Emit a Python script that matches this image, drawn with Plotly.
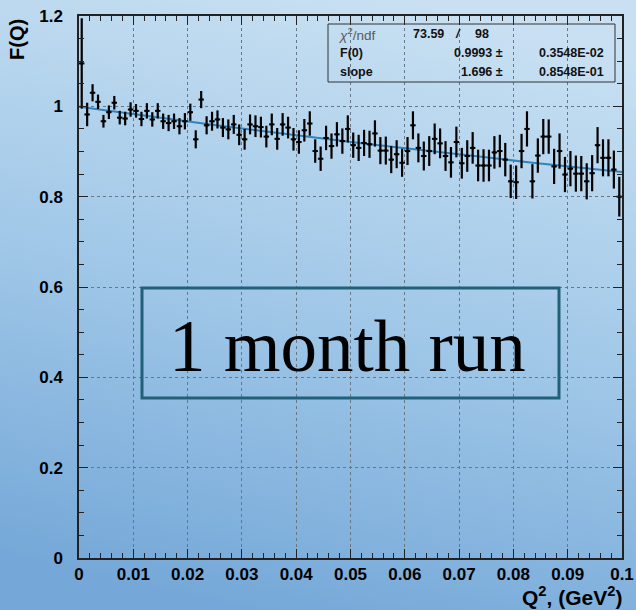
import base64
import numpy as np
import plotly.graph_objects as go

# ---------------- data ----------------
n_bins = 100
bin_width = 0.001
bin_centers = [round(bin_width * (i + 0.5), 4) for i in range(n_bins)]

f_values = [
    1.095, 0.982, 1.030, 1.010, 0.967, 0.987, 1.008, 0.975, 0.973, 0.993,
    0.990, 0.972, 0.990, 0.971, 0.990, 0.967, 0.963, 0.967, 0.956, 0.967,
    0.987, 0.927, 1.015, 0.958, 0.967, 0.971, 0.953, 0.949, 0.960, 0.937,
    0.927, 0.960, 0.956, 0.954, 0.933, 0.960, 0.928, 0.960, 0.953, 0.927,
    0.921, 0.947, 0.962, 0.901, 0.884, 0.930, 0.912, 0.938, 0.923, 0.950,
    0.914, 0.908, 0.919, 0.916, 0.940, 0.902, 0.902, 0.882, 0.894, 0.875,
    0.901, 0.958, 0.908, 0.890, 0.901, 0.928, 0.918, 0.890, 0.876, 0.921,
    0.874, 0.890, 0.908, 0.869, 0.869, 0.869, 0.898, 0.901, 0.882, 0.834,
    0.832, 0.901, 0.950, 0.834, 0.891, 0.933, 0.933, 0.867, 0.901, 0.849,
    0.862, 0.851, 0.851, 0.834, 0.852, 0.914, 0.886, 0.886, 0.860, 0.800,
]

f_errors = [
    0.100, 0.026, 0.019, 0.016, 0.014, 0.015, 0.015, 0.015, 0.015, 0.016,
    0.015, 0.016, 0.017, 0.016, 0.017, 0.017, 0.018, 0.017, 0.018, 0.018,
    0.019, 0.020, 0.019, 0.020, 0.021, 0.020, 0.021, 0.022, 0.021, 0.023,
    0.023, 0.022, 0.024, 0.023, 0.024, 0.024, 0.024, 0.025, 0.024, 0.025,
    0.026, 0.025, 0.027, 0.026, 0.027, 0.027, 0.028, 0.027, 0.028, 0.030,
    0.028, 0.029, 0.029, 0.030, 0.029, 0.030, 0.031, 0.030, 0.031, 0.031,
    0.031, 0.031, 0.032, 0.032, 0.033, 0.034, 0.033, 0.033, 0.034, 0.034,
    0.034, 0.035, 0.035, 0.035, 0.036, 0.035, 0.036, 0.036, 0.037, 0.037,
    0.037, 0.038, 0.039, 0.038, 0.038, 0.039, 0.038, 0.039, 0.039, 0.039,
    0.039, 0.040, 0.039, 0.040, 0.040, 0.040, 0.041, 0.041, 0.042, 0.044,
]

# fit result F(Q2) = F0 / (1 + slope * Q2)
fit_F0 = 0.9993
fit_slope = 1.696
fit_chi2 = "73.59"
fit_ndf = "98"
fit_F0_txt = "0.9993"
fit_F0_err = "0.3548E-02"
fit_slope_txt = "1.696"
fit_slope_err = "0.8548E-01"

x_ticks = [0, 0.01, 0.02, 0.03, 0.04, 0.05, 0.06, 0.07, 0.08, 0.09, 0.1]
x_tick_labels = ["0", "0.01", "0.02", "0.03", "0.04", "0.05", "0.06", "0.07", "0.08", "0.09", "0.1"]
y_ticks = [0, 0.2, 0.4, 0.6, 0.8, 1.0, 1.2]
y_tick_labels = ["0", "0.2", "0.4", "0.6", "0.8", "1", "1.2"]

label_text = "1 month run"

# ---------------- figure ----------------
W, H = 636, 610
ML, MR, MT, MB = 79, 14, 16, 52
PW, PH = W - ML - MR, H - MT - MB

fig = go.Figure()

fit_x = np.linspace(0, 0.1, 201)
fit_y = fit_F0 / (1 + fit_slope * fit_x)
fig.add_trace(go.Scatter(
    x=fit_x, y=fit_y, mode="lines",
    line=dict(color="#3183bd", width=2),
    hoverinfo="skip", showlegend=False,
))

fig.add_trace(go.Scatter(
    x=bin_centers, y=f_values, mode="markers",
    marker=dict(size=3, color="black"),
    error_y=dict(type="data", array=f_errors, color="black", thickness=2.2, width=0),
    error_x=dict(type="constant", value=bin_width / 2, color="black", thickness=2, width=0),
    showlegend=False,
))

# background gradient (decorative)
svg = (
    '<svg xmlns="http://www.w3.org/2000/svg" width="636" height="610">'
    '<defs><linearGradient id="g" x1="0.62" y1="0" x2="0.38" y2="1">'
    '<stop offset="0" stop-color="#c8e0f2"/>'
    '<stop offset="0.5" stop-color="#a1c8e8"/>'
    '<stop offset="1" stop-color="#75a8d8"/>'
    '</linearGradient></defs>'
    '<rect width="636" height="610" fill="url(#g)"/></svg>'
)
svg_uri = "data:image/svg+xml;base64," + base64.b64encode(svg.encode()).decode()
fig.add_layout_image(dict(
    source=svg_uri, xref="paper", yref="paper",
    x=-ML / PW, y=1 + MT / PH, sizex=W / PW, sizey=H / PH,
    xanchor="left", yanchor="top", sizing="stretch", layer="below",
))

tickfont = dict(family="Liberation Sans, Arial, sans-serif", size=17, color="black", weight="bold")
axis_common = dict(
    showline=True, linecolor="#222", linewidth=1.5, mirror="ticks",
    ticks="inside", ticklen=9, tickcolor="#222", tickwidth=1,
    showgrid=True, gridcolor="#667788", gridwidth=1, griddash="dot",
    zeroline=False, tickfont=tickfont,
)

fig.update_xaxes(
    range=[0, 0.1], tickvals=x_ticks, ticktext=x_tick_labels,
    minor=dict(dtick=0.002, ticks="inside", ticklen=5, tickcolor="#222", showgrid=False),
    ticklabelstandoff=0,
    **axis_common,
)
fig.update_yaxes(
    range=[0, 1.2], tickvals=y_ticks, ticktext=y_tick_labels,
    minor=dict(dtick=0.05, ticks="inside", ticklen=5, tickcolor="#222", showgrid=False),
    ticklabelstandoff=11,
    **axis_common,
)

def px_x(px):
    return (px - ML) / PW * 0.1

def px_y(py):
    return (H - MB - py) / PH * 1.2

# stats box
fig.add_shape(type="rect", xref="x", yref="y",
              x0=px_x(328), x1=px_x(615), y0=px_y(82), y1=px_y(24),
              line=dict(color="#333", width=1), fillcolor="rgba(0,0,0,0)")

sfont = dict(family="Liberation Sans, Arial, sans-serif", size=12.5, color="#111", weight="bold")
gfont = dict(family="Liberation Sans, Arial, sans-serif", size=13.5, color="#5a5a5a")
rows = [34, 53, 72]

def stat(text, px, py, anchor, font=sfont):
    fig.add_annotation(x=px_x(px), y=px_y(py), xref="x", yref="y", text=text,
                       showarrow=False, xanchor=anchor, yanchor="middle", font=font)

stat("<i>χ</i><sup>2</sup>/ndf", 337, rows[0], "left", gfont)
stat(fit_chi2, 428, rows[0], "center")
stat("<i>/</i>", 458, rows[0], "center")
stat(fit_ndf, 482, rows[0], "center")
stat("F(0)", 338, rows[1], "left")
stat(fit_F0_txt + " ±", 505, rows[1], "right")
stat(fit_F0_err, 606, rows[1], "right")
stat("slope", 338, rows[2], "left")
stat(fit_slope_txt + " ±", 505, rows[2], "right")
stat(fit_slope_err, 606, rows[2], "right")

# label box
fig.add_shape(type="rect", xref="x", yref="y",
              x0=px_x(142), x1=px_x(559), y0=px_y(398), y1=px_y(288),
              line=dict(color="#22607a", width=3), fillcolor="rgba(0,0,0,0)")
fig.add_annotation(x=px_x(347), y=px_y(346), xref="x", yref="y", text=label_text,
                   showarrow=False, xanchor="center", yanchor="middle",
                   font=dict(family="Liberation Serif, Times New Roman, serif", size=73, color="black"))

# axis titles (positions given in canvas pixels, converted to paper coords)
def paper_x(px):
    return (px - ML) / PW

def paper_y(py):
    return (H - MB - py) / PH

fig.add_annotation(x=paper_x(17), y=paper_y(40), xref="paper", yref="paper",
                   text="F(Q)", textangle=-90, showarrow=False,
                   xanchor="center", yanchor="middle",
                   font=dict(family="Liberation Sans, Arial, sans-serif", size=20, color="black", weight="bold"))
fig.add_annotation(x=paper_x(623), y=paper_y(610), xref="paper", yref="paper",
                   text="Q<sup>2</sup>, (GeV<sup>2</sup>)", showarrow=False,
                   xanchor="right", yanchor="bottom", borderpad=0,
                   font=dict(family="Liberation Sans, Arial, sans-serif", size=21, color="black", weight="bold"))

fig.update_layout(
    width=W, height=H,
    margin=dict(l=ML, r=MR, t=MT, b=MB, autoexpand=False),
    paper_bgcolor="#9fc6e7", plot_bgcolor="rgba(0,0,0,0)",
    showlegend=False,
)

fig.write_html("out.html")
